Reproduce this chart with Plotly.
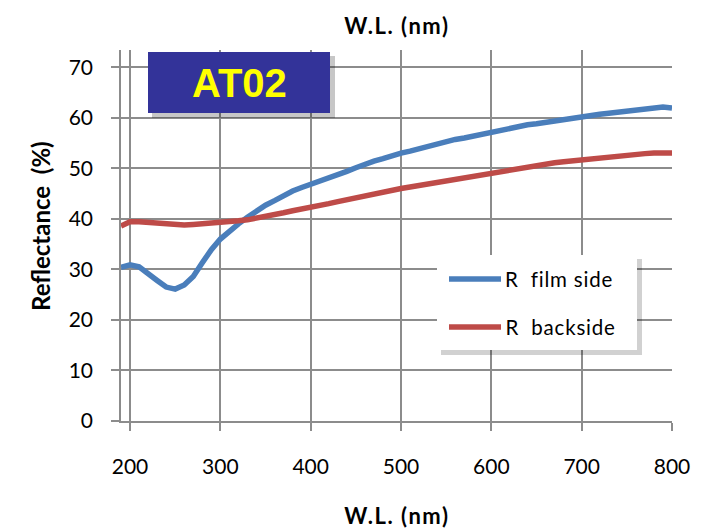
import plotly.graph_objects as go

wavelength = list(range(190, 801, 10))
r_film_side = [30.4, 30.9, 30.5, 29.3, 27.8, 26.5, 26.1, 26.9, 28.6, 31.3,
               33.9, 36.0, 37.6, 39.0, 40.3, 41.6, 42.7, 43.6, 44.6, 45.5,
               46.2, 46.8, 47.5, 48.1, 48.8, 49.4, 50.1, 50.8, 51.4, 51.9,
               52.5, 53.0, 53.4, 53.9, 54.4, 54.8, 55.3, 55.7, 56.0, 56.4,
               56.8, 57.1, 57.5, 57.8, 58.2, 58.6, 58.8, 59.1, 59.4, 59.6,
               59.9, 60.2, 60.5, 60.7, 60.9, 61.1, 61.3, 61.5, 61.7, 62.0,
               62.1, 61.9]
r_backside = [38.6, 39.4, 39.4, 39.3, 39.1, 38.9, 38.8, 38.8, 38.9, 39.0,
              39.1, 39.3, 39.4, 39.6, 39.8, 40.1, 40.4, 40.8, 41.2, 41.6,
              41.9, 42.2, 42.6, 43.0, 43.4, 43.8, 44.2, 44.6, 45.0, 45.4,
              45.7, 46.0, 46.3, 46.6, 46.9, 47.3, 47.7, 48.0, 48.3, 48.6,
              48.9, 49.2, 49.5, 49.8, 50.1, 50.4, 50.6, 50.9, 51.1, 51.3,
              51.5, 51.7, 51.9, 52.1, 52.3, 52.5, 52.6, 52.7, 52.9, 53.0,
              53.1, 53.0]
x_ticks = [200, 300, 400, 500, 600, 700, 800]
y_ticks = [0, 10, 20, 30, 40, 50, 60, 70]
series_names = ["R\u00a0 film side", "R\u00a0 backside"]
series_colors = ["#4A7EBB", "#BE4B48"]

W, H = 706, 528
L, R, T, B = 121, 672, 50, 421
FONT = "Lato"
GRID = "#8C8C8C"


def px(xp):
    return (xp - L) / (R - L)


def py(yp):
    return (B - yp) / (B - T)


fig = go.Figure()
for name, vals, col in zip(series_names, [r_film_side, r_backside], series_colors):
    fig.add_trace(go.Scatter(x=wavelength, y=vals, mode="lines", name=name,
                             line=dict(color=col, width=5.5), showlegend=False))

fig.update_layout(
    width=W, height=H,
    margin=dict(l=L, r=W - R, t=T, b=H - B),
    paper_bgcolor="white", plot_bgcolor="white",
    font=dict(family=FONT, size=21, color="black"),
    xaxis=dict(range=[190, 800], tickvals=x_ticks, showgrid=True,
               gridcolor=GRID, gridwidth=1.5, showline=True, linecolor=GRID,
               linewidth=1.5, ticks="outside", ticklen=8, tickcolor=GRID,
               tickwidth=1.5, ticklabelstandoff=18, zeroline=False),
    yaxis=dict(range=[0, 73.4], tickvals=y_ticks, showgrid=True,
               gridcolor=GRID, gridwidth=1.5, showline=True, linecolor=GRID,
               linewidth=1.5, ticks="outside", ticklen=8, tickcolor=GRID,
               tickwidth=1.5, ticklabelstandoff=14, zeroline=False),
)

annotations = []
shapes = []

# Titles
for yy in (25, 515):
    annotations.append(dict(text="<b>W.L. (nm)</b>", x=px(397), y=py(yy), xref="paper",
                            yref="paper", showarrow=False,
                            font=dict(size=22, family=FONT),
                            xanchor="center", yanchor="middle"))
annotations.append(dict(text="<b>Reflectance\u00a0 (%)</b>", x=px(40), y=py(226),
                        xref="paper", yref="paper", showarrow=False, textangle=-90,
                        font=dict(size=24, family=FONT), xanchor="center",
                        yanchor="middle"))

# AT02 label box with shadow
shapes.append(dict(type="rect", xref="paper", yref="paper", x0=px(152), x1=px(335),
                   y0=py(56), y1=py(118), fillcolor="rgba(0,0,0,0.22)",
                   line=dict(width=0), layer="above"))
shapes.append(dict(type="rect", xref="paper", yref="paper", x0=px(148), x1=px(330),
                   y0=py(52), y1=py(113), fillcolor="#333399",
                   line=dict(width=0), layer="above"))
annotations.append(dict(text="<b>AT02</b>", x=px(239), y=py(83), xref="paper",
                        yref="paper", showarrow=False,
                        font=dict(size=40, family="Liberation Sans", color="#FFFF00"),
                        xanchor="center", yanchor="middle"))

# Legend box with shadow
shapes.append(dict(type="rect", xref="paper", yref="paper", x0=px(441), x1=px(642),
                   y0=py(259), y1=py(355), fillcolor="rgba(0,0,0,0.18)",
                   line=dict(width=0), layer="above"))
shapes.append(dict(type="rect", xref="paper", yref="paper", x0=px(437), x1=px(637),
                   y0=py(255), y1=py(350), fillcolor="white",
                   line=dict(width=0), layer="above"))
for i, (name, col) in enumerate(zip(series_names, series_colors)):
    yy = 279 + i * 48
    shapes.append(dict(type="line", xref="paper", yref="paper", x0=px(449), x1=px(501),
                       y0=py(yy), y1=py(yy), line=dict(color=col, width=5.5),
                       layer="above"))
    annotations.append(dict(text=name, x=px(508), y=py(yy), xref="paper", yref="paper",
                            showarrow=False, font=dict(size=20.5, family=FONT),
                            xanchor="left", yanchor="middle"))

fig.update_layout(shapes=shapes, annotations=annotations)

post = """
var gd = document.getElementById('{plot_id}');
function spaceText(){
  gd.querySelectorAll('.annotation-text').forEach(function(t){
    var s = t.textContent;
    if (s.indexOf('W.L.') === 0) { t.style.letterSpacing = '1.5px'; }
    else if (s.indexOf('R') === 0 && s.length > 4 && s.indexOf('Refl') !== 0) {
      t.style.letterSpacing = '0.8px'; }
  });
}
spaceText();
gd.on('plotly_afterplot', spaceText);
"""
fig.write_html("out.html", post_script=post)
